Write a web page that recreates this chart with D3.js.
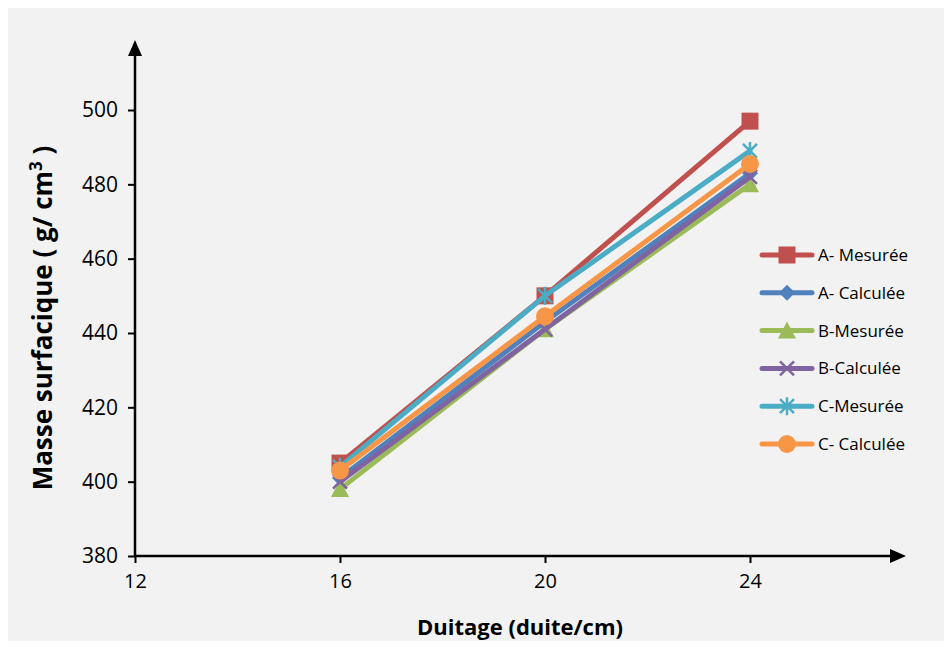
<!DOCTYPE html>
<html><head><meta charset="utf-8">
<script src="https://cdn.jsdelivr.net/npm/d3@7"></script>
<style>body{margin:0;background:#fff}</style>
</head><body>
<script>
const xValues = [16, 20, 24];
const seriesNames = ["A- Mesurée", "A- Calculée", "B-Mesurée", "B-Calculée", "C-Mesurée", "C- Calculée"];
const aMesuree = [405, 450, 497];
const aCalculee = [401, 443, 483];
const bMesuree = [398, 441, 480];
const bCalculee = [400, 441, 482];
const cMesuree = [404, 450, 489];
const cCalculee = [403, 444.5, 485.5];
const yTicks = [380, 400, 420, 440, 460, 480, 500];
const xTicks = [12, 16, 20, 24];
const colors = ["#C0504D", "#4F81BD", "#9BBB59", "#8064A2", "#4BACC6", "#F79646"];
const markers = ["square", "diamond", "triangle", "x", "asterisk", "circle"];
const seriesValues = [aMesuree, aCalculee, bMesuree, bCalculee, cMesuree, cCalculee];

const W = 952, H = 649;
const svg = d3.select("body").append("svg").attr("width", W).attr("height", H);
svg.append("rect").attr("x", 8).attr("y", 8).attr("width", 936).attr("height", 633).attr("fill", "#f2f2f2");

const x = d3.scaleLinear().domain([12, 24]).range([135, 750]);
const y = d3.scaleLinear().domain([380, 500]).range([556, 110]);

// axes
const gy = svg.append("g").attr("transform", "translate(135,0)")
  .call(d3.axisLeft(y).tickValues(yTicks).tickSize(7).tickPadding(10));
gy.select(".domain").remove();
gy.attr("font-size", null).attr("font-family", null);
gy.selectAll("line").attr("stroke", "#000").attr("stroke-width", 2);
gy.selectAll("text").style("font-family", "'Open Sans', sans-serif").style("font-size", "21px").attr("fill", "#000");

const gx = svg.append("g").attr("transform", "translate(0,556)")
  .call(d3.axisBottom(x).tickValues(xTicks).tickSize(7).tickPadding(11));
gx.select(".domain").remove();
gx.attr("font-size", null).attr("font-family", null);
gx.selectAll("line").attr("stroke", "#000").attr("stroke-width", 2);
gx.selectAll("text").style("font-family", "'Open Sans', sans-serif").style("font-size", "20px").attr("fill", "#000");

// axis lines with arrows
svg.append("line").attr("x1", 135).attr("y1", 557).attr("x2", 135).attr("y2", 52).attr("stroke", "#000").attr("stroke-width", 2.5);
svg.append("path").attr("d", "M135,40 L128,56 L142,56 Z").attr("fill", "#000");
svg.append("line").attr("x1", 134).attr("y1", 556).attr("x2", 893).attr("y2", 556).attr("stroke", "#000").attr("stroke-width", 2.5);
svg.append("path").attr("d", "M906,556 L890,549 L890,563 Z").attr("fill", "#000");

function drawMarker(g, type, cx, cy, color) {
  if (type === "square") {
    g.append("rect").attr("x", cx - 8.5).attr("y", cy - 8.5).attr("width", 17).attr("height", 17).attr("fill", color);
  } else if (type === "diamond") {
    g.append("path").attr("d", `M${cx},${cy-8} L${cx+8},${cy} L${cx},${cy+8} L${cx-8},${cy} Z`).attr("fill", color);
  } else if (type === "triangle") {
    g.append("path").attr("d", `M${cx},${cy-9} L${cx+9},${cy+8} L${cx-9},${cy+8} Z`).attr("fill", color);
  } else if (type === "x") {
    g.append("path").attr("d", `M${cx-7},${cy-7} L${cx+7},${cy+7} M${cx-7},${cy+7} L${cx+7},${cy-7}`).attr("stroke", color).attr("stroke-width", 2.5);
  } else if (type === "asterisk") {
    g.append("path").attr("d", `M${cx-7},${cy-7} L${cx+7},${cy+7} M${cx-7},${cy+7} L${cx+7},${cy-7} M${cx},${cy-9} L${cx},${cy+9}`).attr("stroke", color).attr("stroke-width", 2.5);
  } else if (type === "circle") {
    g.append("circle").attr("cx", cx).attr("cy", cy).attr("r", 9).attr("fill", color);
  }
}

const line = d3.line().x((d, i) => x(xValues[i])).y(d => y(d));
seriesValues.forEach((vals, si) => {
  const g = svg.append("g");
  g.append("path").attr("d", line(vals)).attr("fill", "none").attr("stroke", colors[si])
    .attr("stroke-width", 5).attr("stroke-linecap", "round").attr("stroke-linejoin", "round");
  vals.forEach((v, i) => drawMarker(g, markers[si], x(xValues[i]), y(v), colors[si]));
});

// legend
const legY0 = 255, legDy = 37.8;
seriesNames.forEach((name, si) => {
  const g = svg.append("g");
  const ly = legY0 + si * legDy;
  g.append("line").attr("x1", 762).attr("x2", 812).attr("y1", ly).attr("y2", ly)
    .attr("stroke", colors[si]).attr("stroke-width", 5).attr("stroke-linecap", "round");
  drawMarker(g, markers[si], 787, ly, colors[si]);
  g.append("text").attr("x", 818).attr("y", ly).attr("dy", "0.35em")
    .style("font-family", "'Open Sans', sans-serif").style("font-size", "17px").attr("fill", "#000").text(name);
});

// axis titles
const yt = svg.append("text").attr("transform", "translate(52,318) rotate(-90)")
  .attr("text-anchor", "middle").style("font-family", "'Open Sans', sans-serif").attr("font-weight", "bold")
  .style("font-size", "26px").attr("fill", "#000");
yt.append("tspan").text("Masse surfacique ( g/ cm");
yt.append("tspan").attr("dy", -10).style("font-size", "17px").text("3");
yt.append("tspan").attr("dy", 10).text(" )");

svg.append("text").attr("x", 520).attr("y", 635).attr("text-anchor", "middle")
  .style("font-family", "'Open Sans', sans-serif").attr("font-weight", "bold").style("font-size", "22px")
  .attr("fill", "#000").text("Duitage (duite/cm)");
</script>
</body></html>
